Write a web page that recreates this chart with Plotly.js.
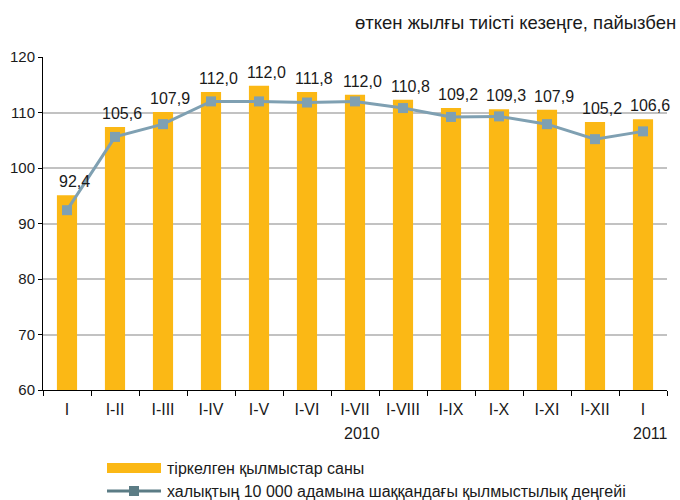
<!DOCTYPE html>
<html>
<head>
<meta charset="utf-8">
<script src="https://cdn.plot.ly/plotly-3.0.1.min.js"></script>
<style>html,body{margin:0;padding:0;background:#fff}#chart{width:680px;height:500px}</style>
</head>
<body>
<div id="chart"></div>
<script>
// Data
const periods = ["I","I-II","I-III","I-IV","I-V","I-VI","I-VII","I-VIII","I-IX","I-X","I-XI","I-XII","I"];
const years = [{idx: 6, label: "2010"}, {idx: 12, label: "2011"}];
const crimesRegistered = [95.1, 107.4, 110.1, 113.7, 114.8, 113.7, 113.2, 112.3, 110.8, 110.6, 110.5, 108.3, 108.8];
const crimeRate = [92.4, 105.6, 107.9, 112.0, 112.0, 111.8, 112.0, 110.8, 109.2, 109.3, 107.9, 105.2, 106.6];
const seriesNames = ["тіркелген қылмыстар саны", "халықтың 10 000 адамына шаққандағы қылмыстылық деңгейі"];
const unitNote = "өткен жылғы тиісті кезеңге, пайызбен";

const FONT = "Liberation Sans, Arial, sans-serif";
const BAR = "#FBB815";
const LINE = "#7FA0B2";
const LEG_LINE = "#5B7C85";

const idx = periods.map((_, i) => i);
const fmt = v => v.toFixed(1).replace('.', ',');

const traces = [
  {
    type: 'bar', x: idx, y: crimesRegistered, name: seriesNames[0],
    marker: {color: BAR}, width: 0.42, hoverinfo: 'skip'
  },
  {
    type: 'scatter', mode: 'lines+markers', x: idx, y: crimeRate, name: seriesNames[1],
    line: {color: LINE, width: 3},
    marker: {symbol: 'square', size: 10, color: LINE},
    cliponaxis: false
  }
];

const plotL = 43, plotR = 667, plotT = 57, plotB = 390;
const px2x = px => (px - plotL) / (plotR - plotL);
const px2y = py => (plotB - py) / (plotB - plotT);

const annotations = [
  {xref: 'paper', yref: 'paper', x: px2x(678), y: px2y(22), xanchor: 'right', yanchor: 'middle',
   text: unitNote, showarrow: false, font: {family: FONT, size: 18.5, color: '#1a1a1a'}},
  {xref: 'paper', yref: 'paper', x: px2x(165), y: px2y(468), xanchor: 'left', yanchor: 'middle',
   text: seriesNames[0], showarrow: false, font: {family: FONT, size: 16, color: '#1a1a1a'}},
  {xref: 'paper', yref: 'paper', x: px2x(165), y: px2y(491), xanchor: 'left', yanchor: 'middle',
   text: seriesNames[1], showarrow: false, font: {family: FONT, size: 16, color: '#1a1a1a'}}
];
years.forEach(yr => annotations.push({
  xref: 'x', yref: 'paper', x: yr.idx, y: px2y(434), xanchor: 'center', yanchor: 'middle',
  xshift: 7, text: yr.label, showarrow: false, font: {family: FONT, size: 16, color: '#1a1a1a'}
}));
// value labels (line values) placed above each bar
idx.forEach(i => annotations.push({
  xref: 'x', yref: 'y', x: i, y: crimesRegistered[i], xanchor: 'center', yanchor: 'bottom',
  xshift: 7, yshift: 3, text: fmt(crimeRate[i]), showarrow: false,
  font: {family: FONT, size: 16, color: '#1a1a1a'}
}));

const shapes = [
  {type: 'rect', xref: 'paper', yref: 'paper', x0: px2x(107), x1: px2x(161), y0: px2y(463), y1: px2y(473),
   fillcolor: BAR, line: {width: 0}},
  {type: 'line', xref: 'paper', yref: 'paper', x0: px2x(107), x1: px2x(161), y0: px2y(491), y1: px2y(491),
   line: {color: LEG_LINE, width: 3}},
  {type: 'rect', xref: 'paper', yref: 'paper', x0: px2x(129), x1: px2x(139), y0: px2y(486), y1: px2y(496),
   fillcolor: LEG_LINE, line: {width: 0}}
];

const layout = {
  width: 680, height: 500,
  margin: {l: plotL, r: 680 - plotR, t: plotT, b: 500 - plotB},
  paper_bgcolor: '#fff', plot_bgcolor: '#fff',
  showlegend: false,
  separators: ', ',
  font: {family: FONT, size: 14, color: '#1a1a1a'},
  xaxis: {
    range: [-0.5, 12.5], tickmode: 'array', tickvals: idx, ticktext: periods,
    ticks: '', showgrid: false, zeroline: false,
    showline: true, linecolor: '#000', linewidth: 1,
    ticklabelstandoff: 5,
    tickfont: {family: FONT, size: 16, color: '#1a1a1a'},
    minor: {tick0: -0.5, dtick: 1, ticks: 'outside', ticklen: 5, tickcolor: '#000', showgrid: false}
  },
  yaxis: {
    range: [60, 120], dtick: 10, tick0: 60,
    ticks: 'outside', ticklen: 4, tickcolor: '#000',
    showline: true, linecolor: '#000', linewidth: 1,
    showgrid: true, gridcolor: '#c2c2c2', gridwidth: 2, zeroline: false,
    tickfont: {family: FONT, size: 15, color: '#1a1a1a'}
  },
  annotations: annotations,
  shapes: shapes
};

Plotly.newPlot('chart', traces, layout, {displayModeBar: false, staticPlot: true});
</script>
</body>
</html>
